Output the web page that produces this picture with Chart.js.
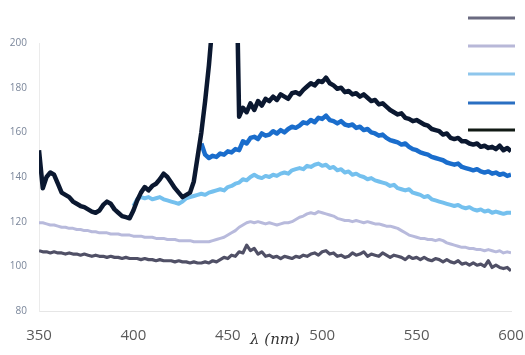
<!DOCTYPE html>
<html>
<head>
<meta charset="utf-8">
<script src="https://cdn.jsdelivr.net/npm/chart.js@4.4.1/dist/chart.umd.min.js"></script>
<style>
html,body{margin:0;padding:0;background:#fff;}
#wrap{width:525px;height:355px;position:relative;}
</style>
</head>
<body>
<div id="wrap"><canvas id="c" width="525" height="355"></canvas></div>
<script>
// wavelength (nm), 2 nm step
const wavelengths = [
350,352,354,356,358,360,362,364,366,368,
370,372,374,376,378,380,382,384,386,388,
390,392,394,396,398,400,402,404,406,408,
410,412,414,416,418,420,422,424,426,428,
430,432,434,436,438,440,442,444,446,448,
450,452,454,456,458,460,462,464,466,468,
470,472,474,476,478,480,482,484,486,488,
490,492,494,496,498,500,502,504,506,508,
510,512,514,516,518,520,522,524,526,528,
530,532,534,536,538,540,542,544,546,548,
550,552,554,556,558,560,562,564,566,568,
570,572,574,576,578,580,582,584,586,588,
590,592,594,596,598,600];

const seriesDark = [
152,135,140,142,141,137,133,132,131,129,
128,127,126.5,125.5,124.5,124,125,127.5,129,128,
125.5,124,122.5,122,121.5,125,129.5,133,135.5,134,
136,137,139,141.5,140,137.5,135,133,131,132,
133,138,149,160,174,190,210,240,260,260,
260,260,260,167,171,169,173,170,174,172,
175,174,176,174.5,177,176,175,177.5,178,177,
179,180.5,182,181,183,182.5,184.5,182,181,179.5,
180,178,178.5,177,177.5,176,177,175.5,174,174.5,
172.5,173,171.5,170,169,168,168.5,166.5,166,165,
165.5,164.5,163.5,163,161.5,161,160.5,159,159.5,157.5,
157,157.5,156,156,155,154.5,155,153.5,154,153,
153.5,152.5,154,152,153,151.5];

const seriesBlue = [
null,null,null,null,null,null,null,null,null,null,
null,null,null,null,null,null,null,null,null,null,
null,null,null,null,null,null,null,null,null,null,
null,null,null,null,null,null,null,null,null,null,
null,null,null,155,150,148.5,149.5,149,150.5,150,
151.5,151,152.5,152,156,155,157.5,158,157,159.5,
158.5,159,160.5,159.5,161,160,161.5,162.5,162,163,
164.5,164,165.5,164.5,166.5,166,167.5,165.5,165,164,
165,163.5,163,163.5,162,162.5,161,161.5,160,159.5,
158.5,159,157.5,156.5,156,155.5,154.5,155,153.5,152.5,
152,151,150.5,150,149,148.5,148,147.5,146.5,146,
145.5,146,144.5,144,143.5,143,143.5,142.5,142,142.5,
141.5,142,141,141.5,140.5,141];

const seriesLightBlue = [
null,null,null,null,null,null,null,null,null,null,
null,null,null,null,null,null,null,null,null,null,
null,null,null,null,null,127,130,131,130.5,131,
130,130.5,131,130,129.5,129,128.5,128,129,130.5,
131,131.5,132,132.5,132,133,133.5,134,134.5,134,
135.5,136,137,137.5,139,138.5,140,141,140,139.5,
140.5,140,141,140.5,141.5,142,141.5,143,143.5,144,
143.5,145,144.5,145.5,146,145,145.5,144,144.5,143,
143.5,142,142.5,141,141.5,140.5,140,139,139.5,138.5,
138,137.5,137,136,136.5,135,134.5,134,134.5,133,
132.5,132,131,131.5,130,129.5,129,128.5,128,127.5,
127,127.5,126.5,126,126.5,125.5,125,125.5,124.5,125,
124,124.5,124,123.5,124,124];

const seriesLavender = [
119.5,119.5,119,118.5,118.5,118,117.5,117.5,117,117,
116.5,116.5,116,116,115.5,115.5,115,115,115,114.5,
114.5,114.5,114,114,114,113.5,113.5,113.5,113,113,
113,112.5,112.5,112.5,112,112,112,111.5,111.5,111.5,
111.5,111,111,111,111,111,111.5,112,112.5,113,
114,115,116,117.5,118.5,119.5,120,119.5,120,119.5,
119,119.5,119,118.5,119,119.5,119.5,120,121,122,
122.5,123.5,124,123.5,124.5,124,123.5,123,122.5,121.5,
121,120.5,120.5,120,120.5,120,119.5,120,119.5,119,
119,118.5,118,118,117.5,117,116,115,114,113.5,
113,112.5,112.5,112,112,111.5,112,111.5,110.5,110,
109.5,109,108.5,108.5,108,108,107.5,107.5,107,107.5,
107,106.5,107,106,106.5,106];

const seriesGrey = [
107,106.5,106.5,106,106.5,106,106,105.5,106,105.5,
105.5,105,105.5,105,104.5,105,104.5,104.5,104,104.5,
104,104,103.5,104,103.5,103.5,103.5,103,103.5,103,
103,102.5,103,102.5,102.5,102.5,102,102.5,102,102,
101.5,102,101.5,101.5,102,101.5,102.5,102,103,104,
103.5,105,104.5,106.5,106,109.5,107,108,105.5,106.5,
104.5,105,104,104.5,103.5,104.5,104,103.5,104.5,104,
105,104.5,105.5,106,105,106.5,107,105.5,106,104.5,
105,104,104.5,106,105,105.5,106.5,104.5,105.5,105,
104.5,106,105,104,105,104.5,104,103,104.5,103.5,
104,103,104,103,102.5,103.5,103,102,103,102,
101.5,102.5,101,101.5,100.5,101.5,100.5,101,100,102.5,
99.5,100.5,99.5,99,99.5,98];

const xTicks = [350,400,450,500,550,600];
const yTicks = [80,100,120,140,160,180,200];

function pts(arr){ return wavelengths.map((w,i)=>({x:w,y:arr[i]})); }

const legendOrder = [4,3,2,1,0];
const legendColors = ['#111a14','#2a6fc2','#8ec6ec','#b8b8d8','#6a6a80'];
const legendPlugin = {
  id:'lineLegend',
  afterDraw(chart){
    const ctx = chart.ctx;
    const ys = [18,46,74,103,130];
    ctx.save();
    ctx.lineWidth = 3;
    legendOrder.forEach((di,k)=>{
      ctx.strokeStyle = legendColors[di];
      ctx.beginPath();
      ctx.moveTo(468, ys[k]);
      ctx.lineTo(515, ys[k]);
      ctx.stroke();
    });
    ctx.restore();
  }
};

new Chart(document.getElementById('c'), {
  type:'line',
  data:{
    datasets:[
      {data:pts(seriesDark), borderColor:'#0b1830', borderWidth:4.5},
      {data:pts(seriesBlue), borderColor:'#1a6dcc', borderWidth:4.5},
      {data:pts(seriesLightBlue), borderColor:'#74c0ee', borderWidth:4},
      {data:pts(seriesLavender), borderColor:'#b8badc', borderWidth:3},
      {data:pts(seriesGrey), borderColor:'#505066', borderWidth:3.2}
    ].map(d=>Object.assign(d,{pointRadius:0,tension:0,fill:false,borderJoinStyle:'round',spanGaps:false}))
  },
  options:{
    responsive:false,
    animation:false,
    devicePixelRatio:1,
    layout:{padding:{left:0,right:14,top:43,bottom:0}},
    plugins:{legend:{display:false},tooltip:{enabled:false}},
    scales:{
      x:{
        type:'linear', min:350, max:600,
        afterBuildTicks(s){ s.ticks = xTicks.map(v=>({value:v})); },
        afterFit(s){ s.height = 44; s.paddingLeft = 0; s.paddingRight = 0; },
        grid:{display:false, drawTicks:false},
        border:{display:true,color:'#e6e6e6',width:1},
        ticks:{padding:16, color:'#5a5a5a', font:{family:'Open Sans', size:15}, maxRotation:0, autoSkip:false},
        title:{display:true, text:'λ (nm)', color:'#333', font:{family:'DejaVu Serif', style:'italic', size:15}, padding:{top:0,bottom:6}}
      },
      y:{
        min:80, max:200,
        afterBuildTicks(s){ s.ticks = yTicks.map(v=>({value:v})); },
        afterFit(s){ s.width = 39; s.paddingTop = 0; s.paddingBottom = 0; },
        grid:{display:false, drawTicks:false},
        border:{display:true,color:'#ebebeb',width:1},
        ticks:{padding:12, color:'#7a869a', font:{family:'Open Sans', size:10}}
      }
    }
  },
  plugins:[legendPlugin]
});
</script>
</body>
</html>
